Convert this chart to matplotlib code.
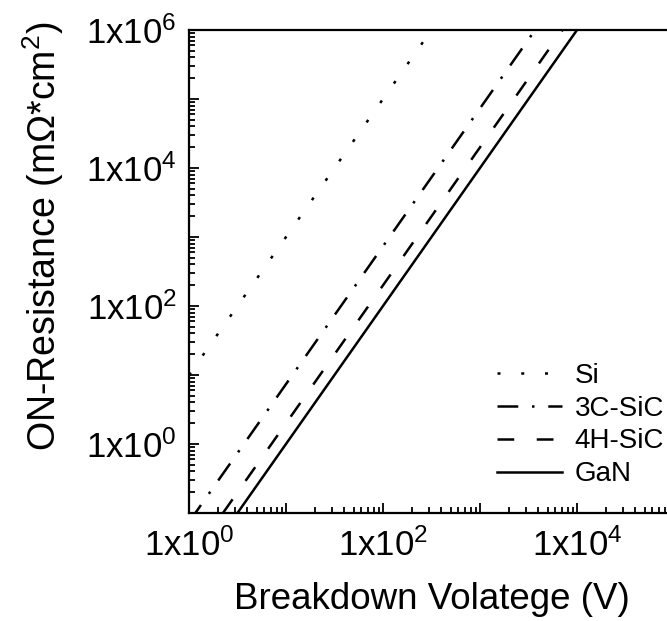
import matplotlib
matplotlib.use("Agg")
import matplotlib.pyplot as plt
from matplotlib.ticker import LogLocator, FixedLocator, FuncFormatter, NullFormatter
import numpy as np

plt.rcParams["font.family"] = ["Liberation Sans", "DejaVu Sans"]
plt.rcParams["mathtext.fontset"] = "custom"
plt.rcParams["mathtext.rm"] = "Liberation Sans"
plt.rcParams["mathtext.it"] = "Liberation Sans:italic"
plt.rcParams["mathtext.bf"] = "Liberation Sans:bold"
plt.rcParams["mathtext.default"] = "regular"

# Specific on-resistance vs. breakdown voltage (R_on ~ V_B^2), end points of each line
materials = ["Si", "3C-SiC", "4H-SiC", "GaN"]
si_v = [1.0, 316.0]
si_r = [10.0, 1.0e6]
sic3c_v = [1.0, 3700.0]
sic3c_r = [0.074, 1.0e6]
sic4h_v = [2.24, 7080.0]
sic4h_r = [0.1, 1.0e6]
gan_v = [3.16, 1.0e4]
gan_r = [0.1, 1.0e6]

x_limits = [1.0, 1.0e5]
y_limits = [0.1, 1.0e6]

fig = plt.figure(figsize=(6.67, 6.21), dpi=100)
W, H = 667, 621
left_px, right_px, top_px, bottom_px = 189, 674, 30, 513
ax = fig.add_axes([left_px / W, 1 - bottom_px / H,
                   (right_px - left_px) / W, (bottom_px - top_px) / H])

lw = 1.8
ax.plot(si_v, si_r, color="black", lw=lw, linestyle=(0, (1.2, 8.3)), label=materials[0])
ax.plot(sic3c_v, sic3c_r, color="black", lw=lw, linestyle=(0, (8.3, 5.5, 1, 5.5)), label=materials[1])
ax.plot(sic4h_v, sic4h_r, color="black", lw=lw, linestyle=(0, (6.7, 9)), label=materials[2])
ax.plot(gan_v, gan_r, color="black", lw=lw, linestyle="-", label=materials[3])

ax.set_xscale("log")
ax.set_yscale("log")
ax.set_xlim(x_limits)
ax.set_ylim(y_limits)


def sci_label(val, pos):
    e = int(round(np.log10(val)))
    if e % 2 != 0:
        return ""
    return "1x10$^{%d}$" % e


def minor_positions(lo_exp, hi_exp):
    return [m * 10.0 ** e for e in range(lo_exp, hi_exp) for m in range(2, 10)]


ax.xaxis.set_major_locator(LogLocator(base=10, numticks=20))
ax.yaxis.set_major_locator(LogLocator(base=10, numticks=20))
ax.xaxis.set_minor_locator(FixedLocator(minor_positions(0, 5)))
ax.yaxis.set_minor_locator(FixedLocator(minor_positions(-1, 6)))
ax.xaxis.set_major_formatter(FuncFormatter(sci_label))
ax.yaxis.set_major_formatter(FuncFormatter(sci_label))
ax.xaxis.set_minor_formatter(NullFormatter())
ax.yaxis.set_minor_formatter(NullFormatter())

ax.tick_params(which="both", direction="in", top=False, right=False, colors="black")
ax.tick_params(which="major", length=7, width=1.3, labelsize=25)
ax.tick_params(axis="x", which="major", pad=11)
ax.tick_params(axis="y", which="major", pad=9)
ax.tick_params(which="minor", length=4, width=1.3)
for s in ax.spines.values():
    s.set_linewidth(1.6)

ax.set_xlabel("Breakdown Volatege (V)", fontsize=26.5, va="baseline")
ax.xaxis.set_label_coords(0.5, (bottom_px - 609) / (bottom_px - top_px))
ax.set_ylabel("ON-Resistance (mΩ*cm$^{2}$)", fontsize=27, va="baseline")
ax.yaxis.set_label_coords((56 - left_px) / (right_px - left_px),
                          (bottom_px - 236) / (bottom_px - top_px))

leg = ax.legend(loc="center left", bbox_to_anchor=(497 / W, 1 - 425 / H),
                bbox_transform=fig.transFigure, frameon=False, fontsize=20,
                handlelength=2.35, handletextpad=0.45, labelspacing=0.25,
                borderpad=0, borderaxespad=0)

fig.savefig("out.png", dpi=100)
